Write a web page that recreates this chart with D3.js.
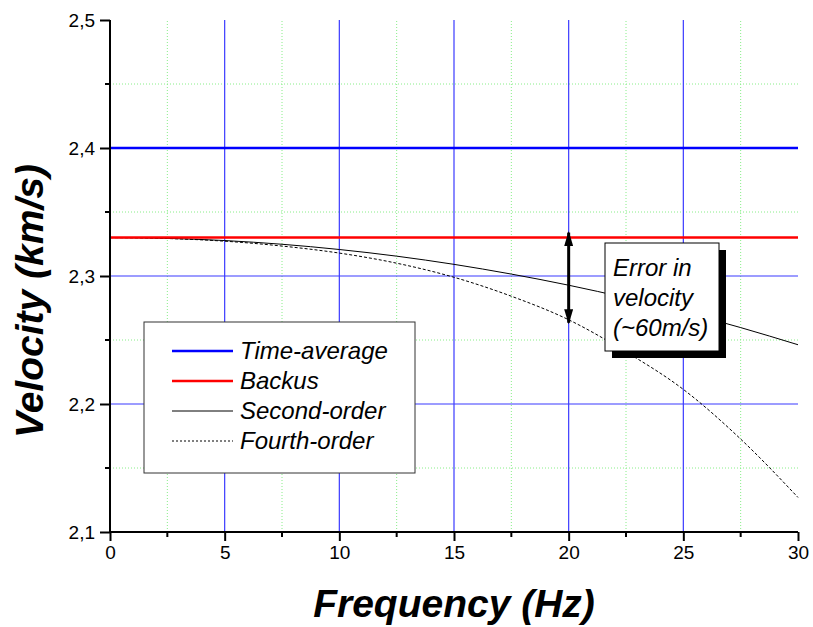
<!DOCTYPE html>
<html>
<head>
<meta charset="utf-8">
<script src="https://cdn.jsdelivr.net/npm/d3@7"></script>
<style>
  body { margin: 0; background: #fff; }
  text { font-family: "Liberation Sans", Arial, sans-serif; }
</style>
</head>
<body>
<svg width="813" height="627"></svg>
<script>
// data
var freq = [0, 2.5, 5, 7.5, 10, 12.5, 15, 17.5, 20, 22.5, 25, 27.5, 30];
var timeAverage = 2.4;
var backus = 2.33;
var secondOrder = [2.330, 2.3294, 2.3277, 2.3248, 2.3207, 2.3155, 2.3091, 2.3015, 2.2928, 2.2829, 2.2719, 2.2597, 2.2463];
var fourthOrder = [2.330, 2.3293, 2.3272, 2.3234, 2.3179, 2.3100, 2.2990, 2.2842, 2.2658, 2.2407, 2.2114, 2.1726, 2.1270];
var xTicks = [0, 5, 10, 15, 20, 25, 30];
var yTicks = [2.1, 2.2, 2.3, 2.4, 2.5];
var xMinor = [2.5, 7.5, 12.5, 17.5, 22.5, 27.5];
var yMinor = [2.15, 2.25, 2.35, 2.45];
var legendNames = ["Time-average", "Backus", "Second-order", "Fourth-order"];
var errorAt = 20;
var noteLines = ["Error in", "velocity", "(~60m/s)"];

var svg = d3.select("svg");
var x = d3.scaleLinear().domain([0, 30]).range([110, 798]);
var y = d3.scaleLinear().domain([2.1, 2.5]).range([532, 20]);
var comma = function (d) { return d3.format(".1f")(d).replace(".", ","); };

// minor grid (green dotted)
var grid = svg.append("g");
grid.selectAll(".mx").data(xMinor).enter().append("line")
    .attr("x1", d => x(d)).attr("x2", d => x(d))
    .attr("y1", y(2.1)).attr("y2", y(2.5))
    .attr("stroke", "#88ee88").attr("stroke-width", 1).attr("stroke-dasharray", "1,2");
grid.selectAll(".my").data(yMinor).enter().append("line")
    .attr("x1", x(0)).attr("x2", x(30))
    .attr("y1", d => y(d)).attr("y2", d => y(d))
    .attr("stroke", "#88ee88").attr("stroke-width", 1).attr("stroke-dasharray", "1,2");

// major grid (blue)
grid.selectAll(".gx").data(xTicks.slice(1, -1)).enter().append("line")
    .attr("x1", d => x(d)).attr("x2", d => x(d))
    .attr("y1", y(2.1)).attr("y2", y(2.5))
    .attr("stroke", "#3a3aff").attr("stroke-width", 1.2);
grid.selectAll(".gy").data(yTicks.slice(1, -1)).enter().append("line")
    .attr("x1", x(0)).attr("x2", x(30))
    .attr("y1", d => y(d)).attr("y2", d => y(d))
    .attr("stroke", "#3a3aff").attr("stroke-width", 1.2);

// curves
var line = d3.line().x((d, i) => x(freq[i])).y(d => y(d)).curve(d3.curveMonotoneX);
svg.append("path").datum(secondOrder).attr("d", line)
    .attr("fill", "none").attr("stroke", "#000").attr("stroke-width", 1);
svg.append("path").datum(fourthOrder).attr("d", line)
    .attr("fill", "none").attr("stroke", "#000").attr("stroke-width", 1).attr("stroke-dasharray", "3,2");

// horizontal reference lines
svg.append("line").attr("x1", x(0)).attr("x2", x(30))
    .attr("y1", y(timeAverage)).attr("y2", y(timeAverage))
    .attr("stroke", "#0000ff").attr("stroke-width", 2.5);
svg.append("line").attr("x1", x(0)).attr("x2", x(30))
    .attr("y1", y(backus)).attr("y2", y(backus))
    .attr("stroke", "#ff0000").attr("stroke-width", 2.5);

// axes
var xAxis = svg.append("g").attr("transform", "translate(0," + y(2.1) + ")")
    .call(d3.axisBottom(x).tickValues(xTicks).tickSize(9).tickPadding(5).tickFormat(d3.format("d")));
xAxis.selectAll(".minor").data(xMinor).enter().append("line")
    .attr("x1", d => x(d)).attr("x2", d => x(d)).attr("y1", 0).attr("y2", 5)
    .attr("stroke", "#000").attr("stroke-width", 2);
var yAxis = svg.append("g").attr("transform", "translate(" + x(0) + ",0)")
    .call(d3.axisLeft(y).tickValues(yTicks).tickSize(10).tickPadding(5).tickFormat(comma));
yAxis.selectAll(".minor").data(yMinor).enter().append("line")
    .attr("x1", 0).attr("x2", -5).attr("y1", d => y(d)).attr("y2", d => y(d))
    .attr("stroke", "#000").attr("stroke-width", 2);
[xAxis, yAxis].forEach(function (a) {
    a.select(".domain").attr("stroke-width", 2);
    a.selectAll(".tick line").attr("stroke-width", 2);
    a.selectAll(".tick text").attr("font-size", 19).attr("fill", "#000")
        .style("font-family", "Liberation Sans, Arial, sans-serif");
});
yAxis.select(".domain").attr("d", "M0," + y(2.1) + "V" + y(2.5));
xAxis.select(".domain").attr("d", "M" + x(0) + ",0H" + x(30));

// axis titles
svg.append("text").attr("x", 454).attr("y", 617).attr("text-anchor", "middle")
    .attr("font-size", 39).attr("font-weight", "bold").attr("font-style", "italic")
    .text("Frequency (Hz)");
svg.append("text").attr("transform", "translate(43,301) rotate(-90)").attr("text-anchor", "middle")
    .attr("font-size", 39).attr("font-weight", "bold").attr("font-style", "italic")
    .text("Velocity (km/s)");

// legend
var lg = svg.append("g");
lg.append("rect").attr("x", 144).attr("y", 322).attr("width", 271).attr("height", 151)
    .attr("fill", "#fff").attr("stroke", "#333").attr("stroke-width", 1);
var styles = [
    { c: "#0000ff", w: 2.5, d: null },
    { c: "#ff0000", w: 2.5, d: null },
    { c: "#000", w: 1, d: null },
    { c: "#000", w: 1, d: "2,2" }
];
legendNames.forEach(function (name, i) {
    var yy = 351 + i * 30;
    lg.append("line").attr("x1", 172).attr("x2", 233).attr("y1", yy).attr("y2", yy)
        .attr("stroke", styles[i].c).attr("stroke-width", styles[i].w)
        .attr("stroke-dasharray", styles[i].d);
    lg.append("text").attr("x", 240).attr("y", yy + 8).attr("font-size", 24)
        .attr("font-style", "italic").text(name);
});

// error arrow
var defs = svg.append("defs");
defs.append("marker").attr("id", "ah").attr("viewBox", "0 0 10 10")
    .attr("refX", 9).attr("refY", 5).attr("markerWidth", 5).attr("markerHeight", 3)
    .attr("markerUnits", "strokeWidth").attr("orient", "auto-start-reverse")
    .attr("preserveAspectRatio", "none")
    .append("path").attr("d", "M0,0L10,5L0,10Z").attr("fill", "#000");
svg.append("line").attr("x1", x(errorAt)).attr("x2", x(errorAt))
    .attr("y1", y(backus) - 5).attr("y2", y(fourthOrder[freq.indexOf(errorAt)]) + 3)
    .attr("stroke", "#000").attr("stroke-width", 3)
    .attr("marker-start", "url(#ah)").attr("marker-end", "url(#ah)");

// note box
var nb = svg.append("g");
nb.append("rect").attr("x", 612).attr("y", 250).attr("width", 114).attr("height", 108).attr("fill", "#000");
nb.append("rect").attr("x", 605).attr("y", 243).attr("width", 114).attr("height", 108)
    .attr("fill", "#fff").attr("stroke", "#000").attr("stroke-width", 1);
noteLines.forEach(function (t, i) {
    nb.append("text").attr("x", 613).attr("y", 276 + i * 30).attr("font-size", 24)
        .attr("font-style", "italic").text(t);
});
</script>
</body>
</html>
